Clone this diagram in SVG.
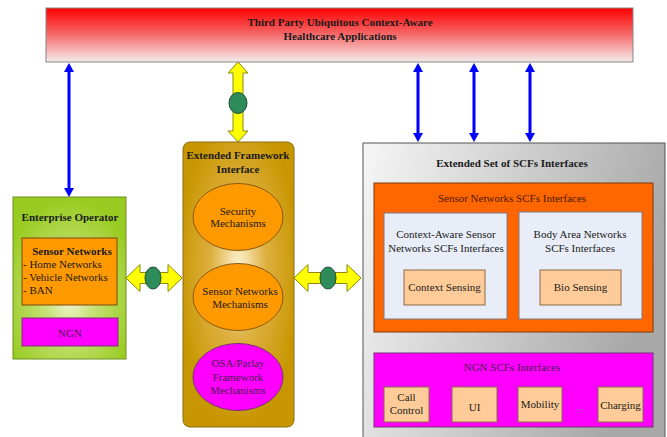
<svg xmlns="http://www.w3.org/2000/svg" width="667" height="437" viewBox="0 0 667 437" font-family="'Liberation Serif', 'DejaVu Serif', serif">
<defs>
  <linearGradient id="gRed" x1="0" y1="0" x2="0" y2="1">
    <stop offset="0" stop-color="#FF0000"/>
    <stop offset="0.45" stop-color="#F66060"/>
    <stop offset="1" stop-color="#F4ECEC"/>
  </linearGradient>
  <radialGradient id="gGreen" cx="0.5" cy="0.62" r="0.6">
    <stop offset="0" stop-color="#F4F8D8"/>
    <stop offset="0.35" stop-color="#C8E27A"/>
    <stop offset="1" stop-color="#99CC22"/>
  </radialGradient>
  <radialGradient id="gGold" cx="0.5" cy="0.45" r="0.55">
    <stop offset="0" stop-color="#FFF6D8"/>
    <stop offset="0.45" stop-color="#DDB040"/>
    <stop offset="1" stop-color="#C89600"/>
  </radialGradient>
  <linearGradient id="gGray" x1="0" y1="0" x2="1" y2="0.3">
    <stop offset="0" stop-color="#F6F6F6"/>
    <stop offset="0.5" stop-color="#CFCFCF"/>
    <stop offset="1" stop-color="#A8A8A8"/>
  </linearGradient>
  <marker id="blueHead" viewBox="0 0 9 10" markerWidth="9" markerHeight="10" refX="1" refY="5" orient="auto-start-reverse" markerUnits="userSpaceOnUse">
    <path d="M0,0 L9,5 L0,10 Z" fill="#0000FF"/>
  </marker>
  <style>
    text { font-family: "Liberation Serif", "DejaVu Serif", serif; fill: #1a1a1a; }
    .t { font-size: 11px; font-weight: bold; text-anchor: middle; }
    .m { font-size: 11px; text-anchor: middle; }
    .l { font-size: 11px; }
    .mg { fill: #4a1f4f; }
    .or { fill: #4a1a00; }
    .blue { stroke: #0000FF; stroke-width: 3; fill: none; marker-start: url(#blueHead); marker-end: url(#blueHead); }
    .yel { fill: #FFFF00; stroke: #8A8A10; stroke-width: 1; }
    .dot { fill: #2E8B5A; stroke: #1F4F35; stroke-width: 1; }
    .peach { fill: #FFCC99; stroke: #8A6A4A; stroke-width: 1; }
    .light { fill: #E8EDF7; stroke: #7A7A8A; stroke-width: 1; }
  </style>
</defs>

<g id="apps">
  <rect x="46" y="8" width="587" height="54" fill="url(#gRed)" stroke="#888" stroke-width="1"/>
  <text class="t" x="340" y="26">Third Party Ubiquitous Context-Aware</text>
  <text class="t" x="340" y="40">Healthcare Applications</text>
</g>

<g id="enterprise">
  <rect x="13" y="197" width="113" height="162" fill="url(#gGreen)" stroke="#6E8E20" stroke-width="1"/>
  <text class="t" x="70" y="220.5">Enterprise Operator</text>
  <g id="ent-sensor">
    <rect x="22" y="238" width="95" height="67" fill="#FF9900" stroke="#7A4A10" stroke-width="1"/>
    <text class="t" x="72" y="254.5">Sensor Networks</text>
    <text class="l" x="23" y="268">- Home Networks</text>
    <text class="l" x="23" y="281">- Vehicle Networks</text>
    <text class="l" x="23" y="294">- BAN</text>
  </g>
  <g id="ent-ngn">
    <rect x="22" y="318" width="96" height="28" fill="#FF00FF" stroke="#7A307A" stroke-width="1"/>
    <text class="m mg" x="70" y="337">NGN</text>
  </g>
</g>

<g id="framework">
  <rect x="183" y="142" width="111" height="285" rx="7" fill="url(#gGold)" stroke="#8A6A10" stroke-width="1"/>
  <text class="t" x="238" y="158.5">Extended Framework</text>
  <text class="t" x="238" y="172.5">Interface</text>
  <g id="security">
    <ellipse cx="238" cy="217" rx="45" ry="33.5" fill="#FF9900" stroke="#8A5A10" stroke-width="1"/>
    <text class="m" x="238" y="215">Security</text>
    <text class="m" x="238" y="227">Mechanisms</text>
  </g>
  <g id="sensor-mech">
    <ellipse cx="238" cy="297" rx="45" ry="33.5" fill="#FF9900" stroke="#8A5A10" stroke-width="1"/>
    <text class="m" x="240" y="295">Sensor Networks</text>
    <text class="m" x="240" y="308">Mechanisms</text>
  </g>
  <g id="osa">
    <ellipse cx="238" cy="377" rx="45" ry="33.5" fill="#FF00FF" stroke="#7A307A" stroke-width="1"/>
    <text class="m mg" x="238" y="367">OSA/Parlay</text>
    <text class="m mg" x="238" y="381">Framework</text>
    <text class="m mg" x="238" y="394">Mechanisms</text>
  </g>
</g>

<g id="scfs">
  <rect x="363" y="143" width="302" height="302" fill="url(#gGray)" stroke="#555" stroke-width="1"/>
  <text class="t" x="512" y="166.5">Extended Set of SCFs Interfaces</text>
  <g id="sensor-scfs">
    <rect x="374" y="183" width="279" height="149" fill="#FF6600" stroke="#7A3A10" stroke-width="1"/>
    <text class="m or" x="512" y="201.5">Sensor Networks SCFs Interfaces</text>
    <g id="ctx-scfs">
      <rect x="384" y="213" width="123" height="106" class="light"/>
      <text class="m" x="446" y="238">Context-Aware Sensor</text>
      <text class="m" x="446" y="252">Networks SCFs Interfaces</text>
      <g id="ctx-sensing">
        <rect x="404" y="270" width="81" height="35" class="peach"/>
        <text class="m" x="444.5" y="291">Context Sensing</text>
      </g>
    </g>
    <g id="ban-scfs">
      <rect x="519" y="212" width="123" height="107" class="light"/>
      <text class="m" x="580" y="238">Body Area Networks</text>
      <text class="m" x="580" y="252">SCFs Interfaces</text>
      <g id="bio-sensing">
        <rect x="540" y="270" width="81" height="35" class="peach"/>
        <text class="m" x="580.5" y="291">Bio Sensing</text>
      </g>
    </g>
  </g>
  <g id="ngn-scfs">
    <rect x="374" y="353" width="279" height="74" fill="#FF00FF" stroke="#7A307A" stroke-width="1"/>
    <text class="m mg" x="512" y="371">NGN SCFs Interfaces</text>
    <g id="call-control">
      <rect x="384" y="387" width="45" height="35" class="peach"/>
      <text class="m" x="406.5" y="401">Call</text>
      <text class="m" x="406.5" y="414">Control</text>
    </g>
    <g id="ui">
      <rect x="452" y="387" width="45" height="35" class="peach"/>
      <text class="m" x="474.5" y="411">UI</text>
    </g>
    <g id="mobility">
      <rect x="518" y="387" width="44" height="35" class="peach"/>
      <text class="m" x="540" y="408">Mobility</text>
    </g>
    <text class="m" x="580" y="410" style="fill:#A070A0">...</text>
    <g id="charging">
      <rect x="598" y="387" width="45" height="35" class="peach"/>
      <text class="m" x="620.5" y="409">Charging</text>
    </g>
  </g>
</g>

<g id="connectors">
  <line class="blue" x1="69" y1="71" x2="69" y2="189"/>
  <line class="blue" x1="418" y1="71" x2="418" y2="134"/>
  <line class="blue" x1="474" y1="71" x2="474" y2="134"/>
  <line class="blue" x1="530" y1="71" x2="530" y2="134"/>
  <path class="yel" d="M238,62 L248,73 L243,73 L243,131 L248,131 L238,142 L228,131 L233,131 L233,73 L228,73 Z"/>
  <ellipse class="dot" cx="238" cy="103" rx="9" ry="10.5"/>
  <path class="yel" d="M126,278 L140,264.5 L140,272.5 L168,272.5 L168,264.5 L182,278 L168,291.5 L168,283.5 L140,283.5 L140,291.5 Z"/>
  <ellipse class="dot" cx="153" cy="278" rx="8" ry="11"/>
  <path class="yel" d="M294,278 L308,264.5 L308,272.5 L347,272.5 L347,264.5 L361,278 L347,291.5 L347,283.5 L308,283.5 L308,291.5 Z"/>
  <ellipse class="dot" cx="328" cy="278" rx="8" ry="11"/>
</g>
</svg>
